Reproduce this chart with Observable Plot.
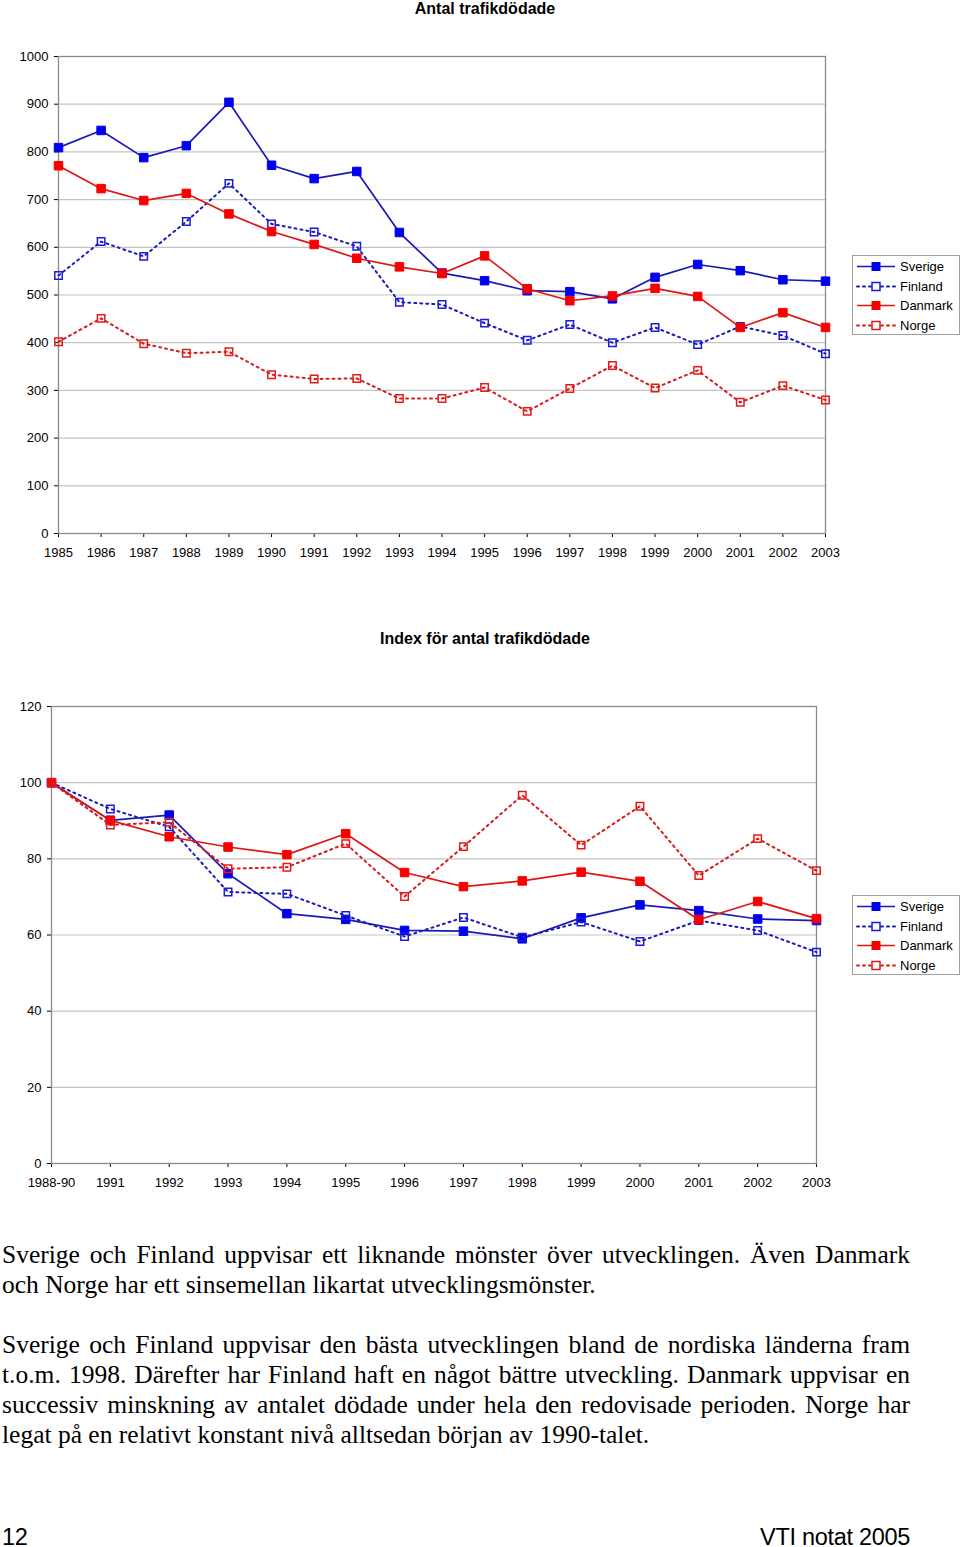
<!DOCTYPE html>
<html>
<head>
<meta charset="utf-8">
<script src="https://cdn.jsdelivr.net/npm/d3@7"></script>
<script src="https://cdn.jsdelivr.net/npm/@observablehq/plot@0.6"></script>
<style>
  body { margin: 0; background: #fff; }
  #page { position: relative; width: 960px; }
  .ctitle { font-family: "Liberation Sans", Arial, sans-serif; font-weight: bold; font-size: 16px; text-align: center; padding-left: 10px; box-sizing: border-box; width: 960px; }
  .chart { position: relative; width: 960px; }
  .chart svg { display: block; }
  .legend { position: absolute; left: 852px; width: 106px; height: 77px; border: 1px solid #a0a0a0; background: #fff; font-family: "Liberation Sans", Arial, sans-serif; font-size: 13px; padding-top: 1px; }
  .legend .row { height: 19.5px; display: flex; align-items: center; }
  .legend .row svg { display: block; margin-left: 3px; margin-right: 4px; }
  .text { font-family: "Liberation Serif", "Times New Roman", serif; font-size: 25.5px; line-height: 30px; margin-left: 2px; width: 908px; color: #000; }
  .text .l, .text .last { white-space: nowrap; text-align: left; }
  .text .l.just { text-align: justify; text-align-last: justify; }
  .footer { font-family: "Liberation Sans", Arial, sans-serif; font-size: 23.5px; line-height: 30px; margin-left: 2px; width: 908px; display: flex; justify-content: space-between; letter-spacing: -0.3px; }
</style>
</head>
<body>
<div id="page">
  <div class="ctitle" style="height:20px;line-height:18px;">Antal trafikdödade</div>
  <div class="chart" id="c1"></div>
  <div class="ctitle" style="height:20px;line-height:21px;">Index för antal trafikdödade</div>
  <div class="chart" id="c2"></div>
  <div class="text" style="margin-top:10px;">
    <div class="l"><span>Sverige och Finland uppvisar ett liknande mönster över utvecklingen. Även Danmark</span></div>
    <div class="last">och Norge har ett sinsemellan likartat utvecklingsmönster.</div>
  </div>
  <div class="text" style="margin-top:30px;">
    <div class="l"><span>Sverige och Finland uppvisar den bästa utvecklingen bland de nordiska länderna fram</span></div>
    <div class="l"><span>t.o.m. 1998. Därefter har Finland haft en något bättre utveckling. Danmark uppvisar en</span></div>
    <div class="l"><span>successiv minskning av antalet dödade under hela den redovisade perioden. Norge har</span></div>
    <div class="last">legat på en relativt konstant nivå alltsedan början av 1990-talet.</div>
  </div>
  <div class="footer" style="margin-top:72px;"><span>12</span><span>VTI notat 2005</span></div>
</div>
<script>
// ---------- Data: Antal trafikdödade ----------
const years = [1985,1986,1987,1988,1989,1990,1991,1992,1993,1994,1995,1996,1997,1998,1999,2000,2001,2002,2003];
const sverige = [809,845,788,813,904,772,744,759,631,546,530,509,507,492,537,564,551,532,529];
const finland = [541,612,581,654,734,649,632,602,485,480,441,405,438,400,432,396,434,415,377];
const danmark = [771,723,698,713,670,633,606,577,559,545,582,513,488,498,514,497,432,463,432];
const norge   = [402,451,398,378,381,333,324,325,283,283,306,256,304,352,305,342,275,310,280];

// ---------- Data: Index för antal trafikdödade ----------
const indexCats = ["1988-90","1991","1992","1993","1994","1995","1996","1997","1998","1999","2000","2001","2002","2003"];
const sverigeIdx = [100,90.1,91.5,76.1,65.6,64.1,61.2,61.0,59.0,64.5,67.9,66.4,64.2,63.8];
const finlandIdx = [100,93.1,88.4,71.3,70.8,65.1,59.6,64.6,59.4,63.4,58.3,63.8,61.2,55.5];
const danmarkIdx = [100,90.1,85.8,83.1,81.1,86.6,76.4,72.7,74.2,76.5,74.1,64.0,68.8,64.3];
const norgeIdx   = [100,88.9,89.6,77.4,77.8,84.0,70.1,83.2,96.7,83.6,93.8,75.6,85.3,76.9];

const seriesNames = ["Sverige","Finland","Danmark","Norge"];

// styling (kept separate from data)
const styles = {
  Sverige: {line: "#1a1ab4", marker: "#0000f0", dash: null, filled: true},
  Finland: {line: "#1c1cb8", marker: "#1a1ad8", dash: "2,4", filled: false},
  Danmark: {line: "#e01616", marker: "#f80000", dash: null, filled: true},
  Norge:   {line: "#d81c1c", marker: "#e81818", dash: "2,4", filled: false}
};

function seriesMarks(rows) {
  const marks = [];
  for (const name of seriesNames) {
    const s = styles[name];
    const d = rows.filter(r => r.serie === name);
    marks.push(Plot.line(d, {x: "x", y: "v", stroke: s.line, strokeWidth: s.dash ? 2 : 1.7, strokeDasharray: s.dash || undefined, strokeLinecap: s.dash ? "round" : "butt"}));
    marks.push(Plot.dot(d, {x: "x", y: "v", symbol: "square", r: s.filled ? 4.8 : 4.2,
      fill: s.filled ? s.marker : "none", stroke: s.marker, strokeWidth: s.filled ? 1 : 1.5}));
  }
  return marks;
}

function legendHTML(top) {
  const div = document.createElement("div");
  div.className = "legend";
  div.style.top = top + "px";
  for (const name of seriesNames) {
    const s = styles[name];
    const row = document.createElement("div");
    row.className = "row";
    const sq = s.filled
      ? `<rect x="15.5" y="5" width="9" height="9" fill="${s.marker}"/>`
      : `<rect x="16" y="5.5" width="8" height="8" fill="#fff" stroke="${s.marker}" stroke-width="1.5"/>`;
    row.innerHTML = `<svg width="40" height="19"><line x1="1" x2="39" y1="9.5" y2="9.5" stroke="${s.line}" stroke-width="${s.dash ? 2 : 1.7}" ${s.dash ? `stroke-dasharray="${s.dash}" stroke-linecap="round"` : ""}/>${sq}</svg><span>${name}</span>`;
    div.appendChild(row);
  }
  return div;
}

const axisStyle = {fontFamily: "'Liberation Sans', Arial, sans-serif", fontSize: "13px", color: "#000", background: "transparent", overflow: "visible"};

// ---------- Chart 1 ----------
const rows1 = [];
years.forEach((yr, i) => {
  rows1.push({serie: "Sverige", x: yr, v: sverige[i]});
  rows1.push({serie: "Finland", x: yr, v: finland[i]});
  rows1.push({serie: "Danmark", x: yr, v: danmark[i]});
  rows1.push({serie: "Norge", x: yr, v: norge[i]});
});
const yTicks1 = [0,100,200,300,400,500,600,700,800,900,1000];
const chart1 = Plot.plot({
  width: 960, height: 608,
  marginTop: 36, marginLeft: 58, marginRight: 135, marginBottom: 95,
  style: axisStyle,
  x: {type: "linear", domain: [1985, 2003], ticks: years, tickFormat: d => String(d), tickSize: 4, tickPadding: 10, label: null},
  y: {domain: [0, 1000], ticks: yTicks1, tickFormat: d => String(d), tickSize: 4, tickPadding: 6, label: null},
  marks: [
    Plot.ruleY(yTicks1, {stroke: "#c4c4c4", strokeWidth: 1.2}),
    Plot.frame({stroke: "#8a8a8a", strokeWidth: 1.3}),
    ...seriesMarks(rows1)
  ]
});
document.getElementById("c1").appendChild(chart1);
document.getElementById("c1").appendChild(legendHTML(235));

// ---------- Chart 2 ----------
const rows2 = [];
indexCats.forEach((c, i) => {
  rows2.push({serie: "Sverige", x: c, v: sverigeIdx[i]});
  rows2.push({serie: "Finland", x: c, v: finlandIdx[i]});
  rows2.push({serie: "Danmark", x: c, v: danmarkIdx[i]});
  rows2.push({serie: "Norge", x: c, v: norgeIdx[i]});
});
const yTicks2 = [0,20,40,60,80,100,120];
const chart2 = Plot.plot({
  width: 960, height: 582,
  marginTop: 58, marginLeft: 51, marginRight: 144, marginBottom: 67,
  style: axisStyle,
  x: {type: "point", domain: indexCats, padding: 0, round: false, tickSize: 4, tickPadding: 10, label: null},
  y: {domain: [0, 120], ticks: yTicks2, tickSize: 4, tickPadding: 6, label: null},
  marks: [
    Plot.ruleY(yTicks2, {stroke: "#c4c4c4", strokeWidth: 1.2}),
    Plot.frame({stroke: "#8a8a8a", strokeWidth: 1.3}),
    ...seriesMarks(rows2)
  ]
});
document.getElementById("c2").appendChild(chart2);
document.getElementById("c2").appendChild(legendHTML(247));

// fit justified lines to the 908px text width
document.querySelectorAll(".text .l").forEach(line => {
  const span = line.querySelector("span");
  const w = span.getBoundingClientRect().width;
  if (w > 908) {
    const n = (span.textContent.match(/ /g) || []).length;
    span.style.wordSpacing = ((908 - w) / n) + "px";
  } else {
    line.classList.add("just");
  }
});
</script>
</body>
</html>
